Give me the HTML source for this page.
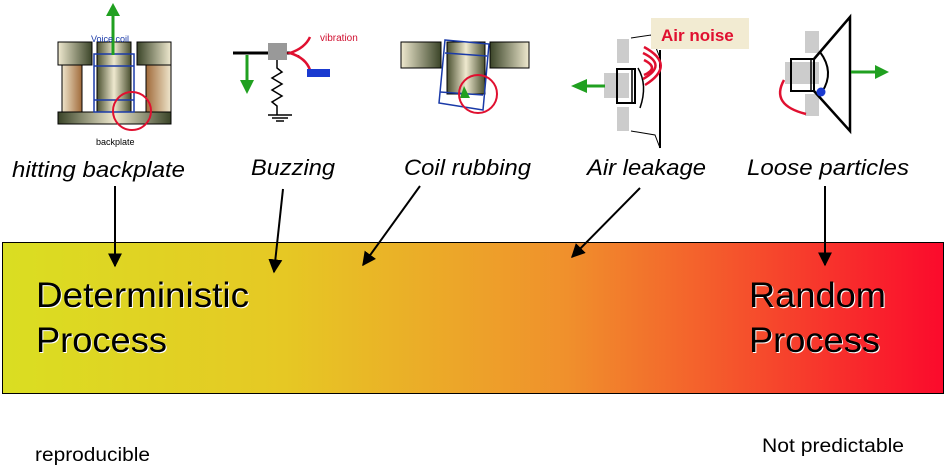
<!DOCTYPE html>
<html><head><meta charset="utf-8"><style>
html,body{margin:0;padding:0;background:#fff;width:947px;height:471px;overflow:hidden}
svg{display:block;font-family:"Liberation Sans",sans-serif}
</style></head><body>
<svg width="947" height="471" viewBox="0 0 947 471" xmlns="http://www.w3.org/2000/svg">
<defs>
<linearGradient id="bar" x1="0" x2="1" y1="0" y2="0">
<stop offset="0" stop-color="#dade22"/>
<stop offset="0.3" stop-color="#e6c824"/>
<stop offset="0.6" stop-color="#f0902c"/>
<stop offset="1" stop-color="#fb0a2c"/>
</linearGradient>
<linearGradient id="mg" x1="0" x2="1"><stop offset="0" stop-color="#efe9cf"/><stop offset="1" stop-color="#3a4428"/></linearGradient>
<linearGradient id="mg2" x1="1" x2="0"><stop offset="0" stop-color="#efe9cf"/><stop offset="1" stop-color="#3a4428"/></linearGradient>
<linearGradient id="cyl" x1="0" x2="1"><stop offset="0" stop-color="#4a5030"/><stop offset="0.5" stop-color="#efe9cf"/><stop offset="1" stop-color="#4a5030"/></linearGradient>
<linearGradient id="brn" x1="0" x2="1"><stop offset="0" stop-color="#efe6cc"/><stop offset="1" stop-color="#a06a3a"/></linearGradient>
<linearGradient id="brn2" x1="1" x2="0"><stop offset="0" stop-color="#efe6cc"/><stop offset="1" stop-color="#a06a3a"/></linearGradient>
<linearGradient id="bp" x1="0" x2="1"><stop offset="0" stop-color="#3a4428"/><stop offset="0.5" stop-color="#efe9cf"/><stop offset="1" stop-color="#3a4428"/></linearGradient>
<marker id="ah" viewBox="0 0 10 10" refX="9" refY="5" markerWidth="7" markerHeight="7" orient="auto"><path d="M0,0L10,5L0,10z" fill="#000"/></marker>
</defs>

<!-- Icon 1 -->
<rect x="58" y="112" width="113" height="12" fill="url(#bp)" stroke="#000"/>
<rect x="58" y="42" width="34" height="23" fill="url(#mg)" stroke="#000"/>
<rect x="137" y="42" width="34" height="23" fill="url(#mg2)" stroke="#000"/>
<rect x="62" y="65" width="20" height="47" fill="url(#brn)" stroke="#000"/>
<rect x="146" y="65" width="25" height="47" fill="url(#brn2)" stroke="#000"/>
<rect x="97" y="42" width="34" height="70" fill="url(#cyl)" stroke="#000"/>
<rect x="94" y="54" width="40" height="58" fill="none" stroke="#1a3aa8" stroke-width="1.5"/>
<line x1="94" y1="66" x2="134" y2="66" stroke="#1a3aa8" stroke-width="1.5"/>
<line x1="94" y1="100" x2="134" y2="100" stroke="#1a3aa8" stroke-width="1.5"/>
<circle cx="132" cy="111" r="19" fill="none" stroke="#e01030" stroke-width="2"/>
<line x1="113" y1="55" x2="113" y2="15" stroke="#20a020" stroke-width="3"/>
<path d="M106,16L113,3L120,16z" fill="#20a020"/>
<text x="91" y="42" font-size="9" fill="#1a3aa8">Voice coil</text>
<text x="96" y="145" font-size="9" fill="#000">backplate</text>

<!-- Icon 2 -->
<line x1="233" y1="53" x2="270" y2="53" stroke="#000" stroke-width="3"/>
<rect x="268" y="43" width="19" height="17" fill="#999"/>
<line x1="287" y1="53" x2="292" y2="53" stroke="#000" stroke-width="3"/>
<text x="295" y="56" font-size="9">..</text>
<path d="M310,37 Q305,48 290,53 Q306,58 310,70" fill="none" stroke="#e01030" stroke-width="2.5"/>
<rect x="307" y="69" width="23" height="8" fill="#1a3ad0"/>
<text x="320" y="41" font-size="10" fill="#d01030">vibration</text>
<path d="M277,60 L277,68 L282,72 L272,78 L282,84 L272,90 L282,96 L272,102 L277,106 L277,115" fill="none" stroke="#000" stroke-width="1.5"/>
<line x1="268" y1="115" x2="292" y2="115" stroke="#000" stroke-width="1.5"/>
<line x1="272" y1="118" x2="288" y2="118" stroke="#000" stroke-width="1.5"/>
<line x1="276" y1="121" x2="284" y2="121" stroke="#000" stroke-width="1.5"/>
<line x1="247" y1="55" x2="247" y2="82" stroke="#20a020" stroke-width="3"/>
<path d="M240,80L247,94L254,80z" fill="#20a020"/>

<!-- Icon 3 -->
<rect x="401" y="42" width="40" height="26" fill="url(#mg)" stroke="#000"/>
<rect x="490" y="42" width="39" height="26" fill="url(#mg2)" stroke="#000"/>
<rect x="447" y="42" width="38" height="52" fill="url(#cyl)" stroke="#000"/>
<path d="M445,40 L489,44 L483,110 L439,103 Z" fill="none" stroke="#1a3aa8" stroke-width="1.5"/>
<line x1="445" y1="53" x2="487" y2="56" stroke="#1a3aa8" stroke-width="1.5"/>
<line x1="440" y1="92" x2="483" y2="95" stroke="#1a3aa8" stroke-width="1.5"/>
<path d="M460,98 L464,86 L470,98z" fill="#20a020"/>
<circle cx="478" cy="94" r="19" fill="none" stroke="#e01030" stroke-width="2"/>

<!-- Icon 4 -->
<rect x="617" y="39" width="12" height="24" fill="#ccc"/>
<rect x="617" y="107" width="12" height="24" fill="#ccc"/>
<rect x="604" y="73" width="25" height="25" fill="#ccc"/>
<rect x="617" y="69" width="18" height="34" fill="none" stroke="#000" stroke-width="2"/>
<line x1="632" y1="69" x2="632" y2="103" stroke="#000" stroke-width="1.5"/>
<path d="M631,38 L651,35 L660,58 L660,148 L655,135 L631,131" fill="none" stroke="#000" stroke-width="1"/>
<line x1="660" y1="50" x2="660" y2="148" stroke="#000" stroke-width="2"/>
<path d="M638,68 Q648,85 640,108" fill="none" stroke="#000" stroke-width="1.5"/>
<path d="M643,53 Q668,65 643,79 M644,60 Q660,68 644,75 M644,47 Q677,65 645,85" fill="none" stroke="#e01030" stroke-width="2.5"/>
<line x1="605" y1="86" x2="585" y2="86" stroke="#20a020" stroke-width="3"/>
<path d="M587,79L571,86L587,93z" fill="#20a020"/>
<rect x="651" y="18" width="98" height="31" fill="#f2ebd2"/>
<text x="661" y="41" font-size="17" font-weight="bold" fill="#e01030">Air noise</text>

<!-- Icon 5 -->
<rect x="805" y="31" width="14" height="22" fill="#ccc"/>
<rect x="805" y="94" width="14" height="22" fill="#ccc"/>
<rect x="785" y="62" width="34" height="22" fill="#ccc"/>
<rect x="791" y="59" width="23" height="32" fill="none" stroke="#000" stroke-width="2"/>
<line x1="811" y1="59" x2="811" y2="91" stroke="#000" stroke-width="1.5"/>
<path d="M814,59 L850,17 L850,131 L814,91" fill="none" stroke="#000" stroke-width="2.5"/>
<path d="M820,52 Q835,72 822,92" fill="none" stroke="#000" stroke-width="2"/>
<circle cx="821" cy="92" r="4.5" fill="#1a3ad0"/>
<path d="M784,80 Q770,105 806,114" fill="none" stroke="#e01030" stroke-width="2.5"/>
<line x1="851" y1="72" x2="876" y2="72" stroke="#20a020" stroke-width="3"/>
<path d="M875,65L889,72L875,79z" fill="#20a020"/>

<!-- Labels -->
<g font-size="22" font-style="italic" fill="#000">
<text x="12" y="177" textLength="173" lengthAdjust="spacingAndGlyphs">hitting backplate</text>
<text x="251" y="175" textLength="84" lengthAdjust="spacingAndGlyphs">Buzzing</text>
<text x="404" y="175" textLength="127" lengthAdjust="spacingAndGlyphs">Coil rubbing</text>
<text x="587" y="175" textLength="119" lengthAdjust="spacingAndGlyphs">Air leakage</text>
<text x="747" y="175" textLength="162" lengthAdjust="spacingAndGlyphs">Loose particles</text>
</g>

<!-- Bar -->
<rect x="2.5" y="242.5" width="941" height="151" fill="url(#bar)" stroke="#000" stroke-width="1"/>

<!-- Arrows -->
<g stroke="#000" stroke-width="2" marker-end="url(#ah)">
<line x1="115" y1="186" x2="115" y2="266"/>
<line x1="283" y1="189" x2="274" y2="272"/>
<line x1="420" y1="186" x2="363" y2="265"/>
<line x1="640" y1="188" x2="572" y2="257"/>
<line x1="825" y1="186" x2="825" y2="265"/>
</g>

<!-- Big text -->
<g font-size="35" fill="#fff">
<text x="37" y="308" textLength="213" lengthAdjust="spacingAndGlyphs">Deterministic</text>
<text x="37" y="353" textLength="131" lengthAdjust="spacingAndGlyphs">Process</text>
<text x="750" y="308" textLength="137" lengthAdjust="spacingAndGlyphs">Random</text>
<text x="750" y="353" textLength="131" lengthAdjust="spacingAndGlyphs">Process</text>
</g>
<g font-size="35" fill="#000">
<text x="36" y="307" textLength="213" lengthAdjust="spacingAndGlyphs">Deterministic</text>
<text x="36" y="352" textLength="131" lengthAdjust="spacingAndGlyphs">Process</text>
<text x="749" y="307" textLength="137" lengthAdjust="spacingAndGlyphs">Random</text>
<text x="749" y="352" textLength="131" lengthAdjust="spacingAndGlyphs">Process</text>
</g>

<text x="35" y="461" font-size="19" textLength="115" lengthAdjust="spacingAndGlyphs">reproducible</text>
<text x="762" y="452" font-size="19" textLength="142" lengthAdjust="spacingAndGlyphs">Not predictable</text>
</svg>
</body></html>
